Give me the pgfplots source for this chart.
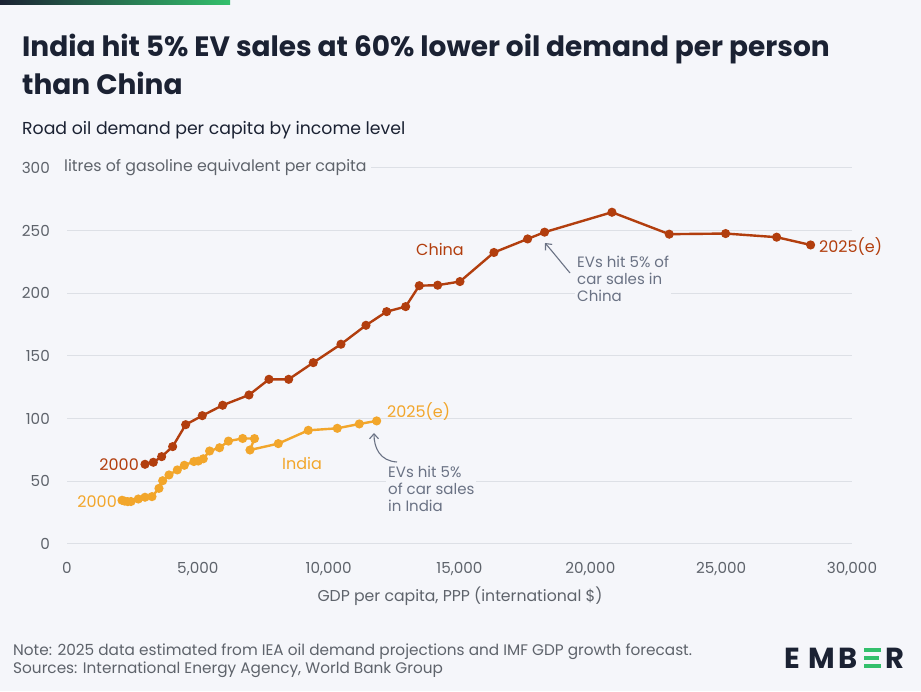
\documentclass[border=0pt]{standalone}
\usepackage{fontspec}
\setmainfont{Poppins}
\usepackage{pgfplots}
\pgfplotsset{compat=1.18}
\usetikzlibrary{arrows.meta}

\definecolor{bg}{HTML}{F5F6FA}
\definecolor{china}{HTML}{B23E0E}
\definecolor{india}{HTML}{F2A62B}
\definecolor{gridc}{HTML}{DDE0E6}
\definecolor{txt}{HTML}{5E636B}
\definecolor{annot}{HTML}{6A7284}
\definecolor{navy}{HTML}{1B2233}
\definecolor{emgreen}{HTML}{33C06C}

\newcommand{\fs}[1]{\fontsize{#1}{#1}\selectfont}

% GDP per capita (PPP) vs road oil demand per capita, 2000-2025(e)
\pgfplotstableread{
gdp    oil
2981   63.6
3299   65.2
3617   69.7
4037   77.7
4535   95.2
5170   102.4
5949   110.7
6955   118.9
7719   131.4
8471   131.4
9412   144.7
10470  159.4
11425  174.5
12216  185.4
12942  189.4
13462  206.1
14165  206.5
15017  209.4
16317  232.6
17603  243.4
18252  248.8
20826  264.7
23015  247.2
25170  247.7
27120  244.8
28418  238.6
}\china

\pgfplotstableread{
gdp    oil
2102   34.9
2200   34.2
2320   33.8
2446   33.9
2725   35.9
2981   37.3
3248   37.8
3515   44.4
3656   50.5
3898   55.1
4216   59.1
4484   62.8
4850   65.8
5017   66.2
5208   68.0
5450   74.2
5830   76.8
6170   82.1
6714   84.2
7165   84.1
6993   75.0
8075   80.1
9221   90.7
10329  92.3
11170  95.8
11834  98.2
}\india

\begin{document}
\begin{tikzpicture}
\fill[bg] (0pt,0pt) rectangle (921pt,691pt);
\shade[left color=navy, right color=emgreen] (0pt,686pt) rectangle (230pt,691pt);

\node[anchor=base west, inner sep=0pt, text=navy, font=\fs{28}\bfseries] at (22pt,634pt)
  {India hit 5\% EV sales at 60\% lower oil demand per person};
\node[anchor=base west, inner sep=0pt, text=navy, font=\fs{28}\bfseries] at (22pt,596pt)
  {than China};
\node[anchor=base west, inner sep=0pt, text=navy, font=\fs{17.3}] at (22pt,556pt)
  {Road oil demand per capita by income level};

\begin{axis}[
  at={(67pt,147pt)}, anchor=south west,
  scale only axis, width=785pt, height=376pt,
  xmin=0, xmax=30000, ymin=0, ymax=300,
  axis line style={draw=none},
  major tick length=0pt,
  xtick={0,5000,...,30000},
  ytick={0,50,...,300},
  ymajorgrids,
  grid style={gridc, line width=1pt},
  scaled x ticks=false,
  /pgf/number format/assume math mode=true,
  xticklabel style={/pgf/number format/1000 sep={,}, anchor=base, yshift=-30pt, inner sep=0pt},
  yticklabel style={anchor=east, xshift=-17pt, inner sep=0pt},
  tick label style={font=\fs{15.2}, text=txt},
  clip=false,
]
\addplot[india, line width=2.4pt, mark=*, mark size=3.3pt] table[x=gdp, y=oil] {\india};
\addplot[china, line width=2.4pt, mark=*, mark size=3.3pt] table[x=gdp, y=oil] {\china};
\end{axis}

% unit label over the top gridline
\node[anchor=base west, fill=bg, inner xsep=4pt, inner ysep=3pt, text=txt, font=\fs{15.8}] at (60pt,519pt)
  {litres of gasoline equivalent per capita};
\node[anchor=base, text=txt, font=\fs{15.7}, inner sep=0pt] at (460pt,89pt)
  {GDP per capita, PPP (international \$)};

% series labels
\node[anchor=base west, inner sep=0pt, text=china, font=\fs{16}] at (416pt,435pt) {China};
\node[anchor=base east, inner sep=0pt, text=china, font=\fs{16}] at (139pt,220pt) {2000};
\node[anchor=base west, inner sep=0pt, text=china, font=\fs{16}] at (819pt,438pt) {2025(e)};
\node[anchor=base west, inner sep=0pt, text=india, font=\fs{16}] at (282pt,221pt) {India};
\node[anchor=base east, inner sep=0pt, text=india, font=\fs{16}] at (117pt,183pt) {2000};
\node[anchor=base west, inner sep=0pt, text=india, font=\fs{16}] at (387pt,273pt) {2025(e)};

% EV annotations
\node[anchor=north west, fill=bg, inner sep=2pt, text=annot, font=\fs{15}, align=left] at (575pt,437pt)
  {EVs hit 5\% of\\[2pt] car sales in\\[2pt] China};
\draw[annot, line width=1.1pt, -{Straight Barb[length=5pt, width=9pt]}]
  (570pt,418pt) .. controls (560pt,430pt) and (552pt,440pt) .. (545pt,448pt);
\node[anchor=north west, fill=bg, inner sep=2pt, text=annot, font=\fs{15}, align=left] at (386pt,227pt)
  {EVs hit 5\%\\[2pt] of car sales\\[2pt] in India};
\draw[annot, line width=1.1pt, -{Straight Barb[length=5pt, width=9pt]}]
  (397pt,229pt) .. controls (380pt,230pt) and (374pt,243pt) .. (374pt,258pt);

% footer
\node[anchor=base west, inner sep=0pt, text=txt, font=\fs{15.3}] at (13pt,36pt)
  {Note: 2025 data estimated from IEA oil demand projections and IMF GDP growth forecast.};
\node[anchor=base west, inner sep=0pt, text=txt, font=\fs{15.3}] at (13pt,18pt)
  {Sources: International Energy Agency, World Bank Group};

% logo
\node[anchor=base west, inner sep=0pt, text=navy, font=\fs{29}\bfseries] at (784pt,23pt) {E};
\node[anchor=base west, inner sep=0pt, text=navy, font=\fs{29}\bfseries] at (808pt,23pt) {M};
\node[anchor=base west, inner sep=0pt, text=navy, font=\fs{29}\bfseries] at (838pt,23pt) {B};
\fill[emgreen] (864pt,39pt) rectangle (881pt,43.5pt);
\fill[emgreen] (864pt,31pt) rectangle (879pt,35.5pt);
\fill[emgreen] (864pt,23pt) rectangle (881pt,27.5pt);
\node[anchor=base west, inner sep=0pt, text=navy, font=\fs{29}\bfseries] at (885pt,23pt) {R};
\end{tikzpicture}
\end{document}
